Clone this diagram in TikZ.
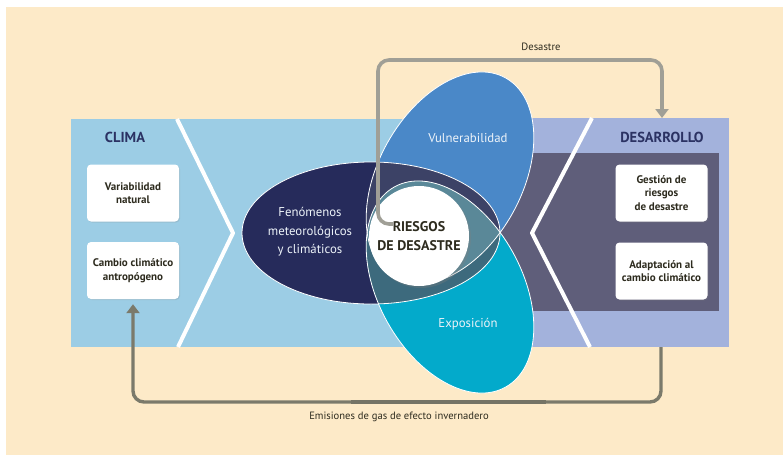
\documentclass[tikz,border=0pt]{standalone}
\usepackage{fontspec}
\setmainfont{PT Sans}
\usetikzlibrary{arrows.meta,shadows}

\definecolor{crema}{HTML}{FDEAC8}
\definecolor{celeste}{HTML}{9CCDE5}
\definecolor{lavanda}{HTML}{A3B2DC}
\definecolor{pizarra}{HTML}{5F5E7A}
\definecolor{marino}{HTML}{262B5B}
\definecolor{azulV}{HTML}{4A88C8}
\definecolor{cian}{HTML}{03AACB}
\definecolor{solapeNA}{HTML}{3C4266}
\definecolor{solapeNC}{HTML}{3D6A7D}
\definecolor{solapeT}{HTML}{5A8898}
\definecolor{tinta}{HTML}{2D2B1E}
\definecolor{azulTit}{HTML}{2B3263}
\definecolor{grisClaro}{HTML}{A09F96}
\definecolor{grisOscuro}{HTML}{7B7A6B}

\begin{document}
\begin{tikzpicture}[x=1pt,y=-1pt,
  caja/.style={fill=white,rounded corners=4pt,minimum width=92pt,minimum height=57pt,inner sep=2pt,
    align=center,text=tinta,font=\bfseries\fontsize{11}{13.5}\selectfont,
    drop shadow={opacity=0.2,shadow xshift=1pt,shadow yshift=-1pt}},
  titulo/.style={text=azulTit,font=\bfseries\fontsize{14.5}{16}\selectfont},
  etiq/.style={text=white!90!azulV,align=center,font=\fontsize{12.8}{18.5}\selectfont},
  nota/.style={text=tinta,font=\fontsize{10.6}{12}\selectfont},
  flecha/.style={line width=3.6pt,rounded corners=11pt,-{Triangle[width=13pt,length=9pt]}}]

\useasboundingbox (0,0) rectangle (783,455);
\fill[white] (0,0) rectangle (783,455);
\fill[crema] (6,7) rectangle (783,455);

%%%PANELES%%
\fill[celeste] (71,119) rectangle (460,347);
\fill[lavanda] (460,118) rectangle (729,347);
\fill[pizarra] (440,153) rectangle (719,311);

\draw[white,line width=4pt,line join=round] (177,119) -- (233,233) -- (178,347);
\draw[white,line width=4pt,line join=round] (592,118) -- (532,233) -- (590,347);

\node[titulo] (clima) at (125,137) {CLIMA};
\node[titulo] (desarrollo) at (662,137) {DESARROLLO};
\coordinate (desTop) at (662,118);
\coordinate (desBot) at (661,347);

\node[caja] (variab) at (133,193) {Variabilidad\\natural};
\node[caja] (cambio) at (133,270.5) {Cambio climático\\antropógeno};
\node[caja] (gestion) at (661.5,193) {Gestión de\\riesgos\\de desastre};
\node[caja] (adapt) at (661.5,271) {Adaptación al\\cambio climático};

%%%ELIPSES%%
\fill[marino] (371,233) ellipse [x radius=129pt, y radius=71pt];
\fill[azulV] (450,178) ellipse [x radius=114.5pt, y radius=71.8pt, rotate=61];
\fill[cian] (450,287) ellipse [x radius=114.5pt, y radius=71.8pt, rotate=-61];

\begin{scope}
\clip (450,178) ellipse [x radius=114.5pt, y radius=71.8pt, rotate=61];
\fill[solapeT] (450,287) ellipse [x radius=114.5pt, y radius=71.8pt, rotate=-61];
\end{scope}
\begin{scope}
\clip (371,233) ellipse [x radius=129pt, y radius=71pt];
\fill[solapeNA] (450,178) ellipse [x radius=114.5pt, y radius=71.8pt, rotate=61];
\fill[solapeNC] (450,287) ellipse [x radius=114.5pt, y radius=71.8pt, rotate=-61];
\clip (450,178) ellipse [x radius=114.5pt, y radius=71.8pt, rotate=61];
\fill[solapeT] (450,287) ellipse [x radius=114.5pt, y radius=71.8pt, rotate=-61];
\end{scope}

%bordes
\draw[white,line width=0.8pt] (371,233) ellipse [x radius=129pt, y radius=71pt];
\draw[white,line width=0.8pt] (450,178) ellipse [x radius=114.5pt, y radius=71.8pt, rotate=61];
\draw[white,line width=0.8pt] (450,287) ellipse [x radius=114.5pt, y radius=71.8pt, rotate=-61];

\node[etiq] (fenomenos) at (310,232) {Fenómenos\\meteorológicos\\y climáticos};
\node[etiq] (vulnera) at (468,138) {Vulnerabilidad};
\node[etiq] (exposic) at (468,324) {Exposición};

\node[circle,fill=white,minimum size=100pt,inner sep=0pt,align=center,text=tinta,
  font=\bfseries\fontsize{14}{19.5}\selectfont,
  drop shadow={opacity=0.3,shadow xshift=2pt,shadow yshift=-2pt}] (riesgos) at (419,236) {RIESGOS\\DE DESASTRE};

%%%FLECHAS%%
\draw[flecha,color=grisClaro] ([shift={(-26,-12)}]riesgos.center) -- ++(-15,0) -- ++(0,-164) -| (desTop);
\node[nota] (lblDesastre) at (541,47) {Desastre};

\draw[flecha,line width=3.4pt,color=grisOscuro] (desBot) -- ++(0,55) -| ([yshift=-5pt]cambio.south);
\draw[line width=4.8pt,color=grisOscuro!95!black] (351,402) -- (546,402);
\node[nota] (lblEmisiones) at (399,417) {Emisiones de gas de efecto invernadero};

\end{tikzpicture}
\end{document}
